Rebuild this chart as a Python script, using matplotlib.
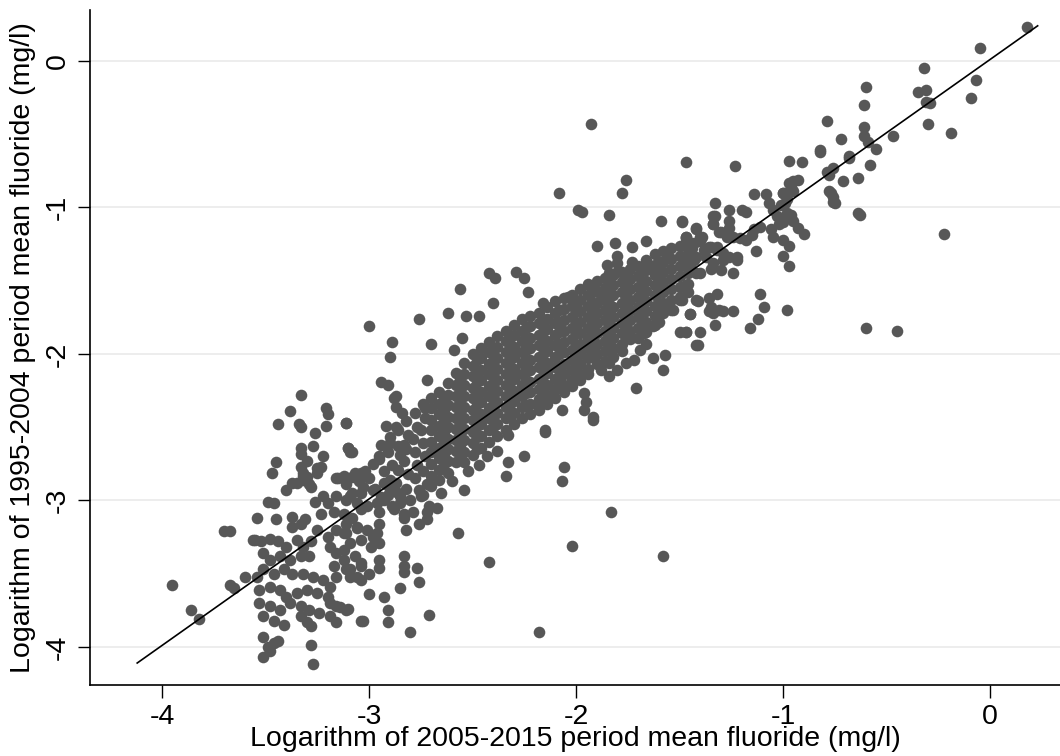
import matplotlib
matplotlib.use("Agg")
import matplotlib.pyplot as plt
import numpy as np

# ---------------- data (log mg/l) ----------------
# fitted line end points
fit_x = [-4.12, 0.23]
fit_y = [-4.11, 0.24]

x_ticks = [-4, -3, -2, -1, 0]
y_ticks = [-4, -3, -2, -1, 0]

x_label = "Logarithm of 2005-2015 period mean fluoride (mg/l)"
y_label = "Logarithm of 1995-2004 period mean fluoride (mg/l)"

lower_left = [
    (-3.95, -3.58), (-3.86, -3.75), (-3.82, -3.81), (-3.70, -3.21), (-3.67, -3.21), (-3.67, -3.58), (-3.65, -3.60),
    (-3.60, -3.52), (-3.54, -3.52), (-3.54, -3.12), (-3.55, -3.27), (-3.49, -3.01), (-3.46, -3.02), (-3.45, -3.13),
    (-3.37, -3.11), (-3.33, -3.16), (-3.31, -3.13), (-3.37, -3.18), (-3.40, -2.93), (-3.35, -2.88), (-3.32, -2.86),
    (-3.29, -2.89), (-3.25, -2.81), (-3.32, -2.81), (-3.15, -2.85), (-3.08, -2.84), (-3.11, -2.89), (-3.26, -3.01),
    (-3.22, -2.97), (-3.20, -3.02), (-3.16, -2.97), (-3.09, -2.97), (-3.04, -2.95), (-3.23, -3.09), (-3.17, -3.08),
    (-3.12, -3.09), (-3.08, -3.12), (-3.04, -3.06), (-3.25, -3.20), (-3.20, -3.25), (-3.16, -3.20), (-3.11, -3.22),
    (-3.06, -3.19), (-3.56, -3.27), (-3.52, -3.28), (-3.48, -3.26), (-3.44, -3.28), (-3.40, -3.32), (-3.35, -3.27),
    (-3.32, -3.32), (-3.28, -3.28), (-3.51, -3.36), (-3.48, -3.41), (-3.43, -3.38), (-3.38, -3.41), (-3.33, -3.38),
    (-3.29, -3.38), (-3.19, -3.32), (-3.16, -3.36), (-3.12, -3.41), (-3.17, -3.45), (-3.09, -3.47), (-3.04, -3.45),
    (-3.51, -3.47), (-3.46, -3.50), (-3.41, -3.47), (-3.37, -3.50), (-3.32, -3.50), (-3.27, -3.52), (-3.22, -3.54),
    (-3.16, -3.52), (-3.09, -3.52), (-3.04, -3.54), (-3.19, -3.59), (-3.53, -3.61), (-3.48, -3.59), (-3.43, -3.61),
    (-3.40, -3.66), (-3.35, -3.63), (-3.30, -3.61), (-3.25, -3.63), (-3.20, -3.66), (-3.53, -3.70), (-3.48, -3.72),
    (-3.43, -3.75), (-3.38, -3.70), (-3.33, -3.72), (-3.29, -3.75), (-3.19, -3.70), (-3.16, -3.72), (-3.11, -3.75),
    (-3.51, -3.79), (-3.46, -3.82), (-3.41, -3.85), (-3.33, -3.79), (-3.30, -3.83), (-3.24, -3.77), (-3.19, -3.79),
    (-3.16, -3.83), (-3.04, -3.82), (-3.51, -3.93), (-3.49, -4.00), (-3.46, -3.97), (-3.44, -3.96), (-3.51, -4.07),
    (-3.48, -4.03), (-3.28, -3.86), (-3.28, -3.99), (-3.27, -4.12), (-3.10, -3.74),
]

left_upper = [
    (-3.33, -2.28), (-3.38, -2.39), (-3.21, -2.37), (-3.20, -2.41), (-3.44, -2.48), (-3.34, -2.48), (-3.33, -2.50),
    (-3.26, -2.54), (-3.21, -2.49), (-3.11, -2.47), (-3.33, -2.64), (-3.33, -2.68), (-3.27, -2.63), (-3.22, -2.70),
    (-3.10, -2.64), (-3.09, -2.67), (-3.45, -2.74), (-3.47, -2.81), (-3.30, -2.73), (-3.33, -2.77), (-3.25, -2.78),
    (-3.23, -2.77), (-3.32, -2.83), (-3.30, -2.84), (-3.16, -2.85), (-3.11, -2.86), (-3.04, -2.81), (-3.37, -2.88),
    (-3.28, -2.91), (-3.12, -2.83), (-3.07, -2.81), (-3.02, -2.80), (-3.05, -2.87), (-3.00, -2.85), (-2.97, -2.92),
    (-2.92, -2.89), (-2.98, -2.75), (-2.95, -2.70),
]

mid_lower = [
    (-3.08, -2.95), (-3.03, -2.91), (-2.98, -2.93), (-2.93, -2.88), (-2.90, -2.93), (-2.86, -2.95), (-2.85, -2.97),
    (-3.11, -3.00), (-3.06, -3.02), (-3.01, -3.04), (-2.96, -3.02), (-2.93, -3.00), (-2.88, -3.06), (-2.83, -3.09),
    (-2.79, -3.08), (-2.75, -2.97), (-2.72, -3.08), (-2.71, -3.04), (-2.67, -3.05), (-2.65, -2.95), (-2.54, -2.93),
    (-2.83, -3.12), (-2.82, -3.20), (-2.76, -3.16), (-2.72, -3.13), (-2.57, -3.22), (-2.42, -3.42), (-3.11, -3.16),
    (-3.06, -3.18), (-3.01, -3.20), (-2.98, -3.25), (-2.95, -3.29), (-3.12, -3.22), (-3.09, -3.29), (-3.04, -3.27),
    (-2.99, -3.32), (-2.95, -3.16), (-2.96, -3.22), (-3.12, -3.34), (-3.07, -3.38), (-3.04, -3.43), (-3.11, -3.47),
    (-3.06, -3.52), (-3.00, -3.50), (-2.95, -3.46), (-2.95, -3.41), (-2.83, -3.38), (-2.83, -3.45), (-2.83, -3.49),
    (-2.77, -3.46), (-2.76, -3.56), (-2.85, -3.60), (-3.00, -3.64), (-2.93, -3.66), (-3.14, -3.73), (-2.91, -3.75),
    (-2.91, -3.83), (-3.03, -3.82), (-2.71, -3.78), (-2.80, -3.90), (-2.74, -2.96),
    (-2.52, -2.80), (-2.47, -2.76), (-2.43, -2.70), (-2.38, -2.66), (-2.60, -2.87),
]

mid_upper = [
    (-3.00, -1.81), (-2.76, -1.76), (-2.62, -1.72), (-2.53, -1.74), (-2.47, -1.74), (-2.40, -1.65), (-2.89, -1.92),
    (-2.90, -2.02), (-2.70, -1.93), (-2.59, -1.97), (-2.55, -1.89), (-2.94, -2.19), (-2.91, -2.21), (-2.72, -2.18),
    (-2.88, -2.30), (-2.87, -2.29), (-2.87, -2.36), (-2.84, -2.40), (-3.11, -2.47), (-2.92, -2.49), (-2.87, -2.50),
    (-2.73, -2.37), (-3.10, -2.64), (-3.08, -2.67), (-2.90, -2.61), (-2.86, -2.63), (-2.83, -2.62),
]

transition = [
    (-2.94, -2.62), (-2.95, -2.72), (-2.93, -2.80), (-2.94, -2.98), (-2.95, -3.08), (-2.90, -2.57), (-2.91, -2.67),
    (-2.89, -2.76), (-2.90, -2.86), (-2.91, -2.96), (-2.89, -3.04), (-2.86, -2.52), (-2.85, -2.69), (-2.86, -2.79),
    (-2.87, -2.88), (-2.85, -3.02), (-2.82, -2.46), (-2.81, -2.55), (-2.82, -2.65), (-2.83, -2.73), (-2.81, -2.82),
    (-2.82, -2.92), (-2.80, -3.00), (-2.78, -2.40), (-2.77, -2.50), (-2.79, -2.58), (-2.78, -2.67), (-2.77, -2.76),
    (-2.78, -2.85), (-2.76, -2.93), (-2.74, -2.34), (-2.73, -2.44), (-2.75, -2.52), (-2.74, -2.61), (-2.73, -2.70),
    (-2.74, -2.80), (-2.72, -2.89),
]

# dense core: (x, [y values]) columns
core_columns = [
    (-2.70, [-2.30, -2.37, -2.45, -2.52, -2.60, -2.67, -2.75, -2.83, -2.90]),
    (-2.66, [-2.26, -2.34, -2.41, -2.49, -2.56, -2.64, -2.71, -2.79, -2.86]),
    (-2.62, [-2.20, -2.28, -2.35, -2.43, -2.50, -2.58, -2.65, -2.73, -2.81]),
    (-2.58, [-2.13, -2.21, -2.29, -2.36, -2.44, -2.51, -2.59, -2.66, -2.74]),
    (-2.54, [-2.06, -2.14, -2.21, -2.29, -2.36, -2.44, -2.51, -2.59, -2.67, -2.74]),
    (-2.50, [-2.00, -2.08, -2.15, -2.23, -2.30, -2.38, -2.45, -2.53, -2.61, -2.69]),
    (-2.46, [-1.96, -2.03, -2.11, -2.18, -2.26, -2.33, -2.41, -2.48, -2.56, -2.64]),
    (-2.42, [-1.92, -1.99, -2.07, -2.14, -2.22, -2.29, -2.37, -2.44, -2.52, -2.60]),
    (-2.38, [-1.88, -1.95, -2.03, -2.10, -2.18, -2.25, -2.33, -2.40, -2.48, -2.56]),
    (-2.34, [-1.84, -1.91, -1.99, -2.06, -2.14, -2.21, -2.29, -2.36, -2.44, -2.52]),
    (-2.30, [-1.80, -1.87, -1.95, -2.02, -2.10, -2.17, -2.25, -2.32, -2.40, -2.48]),
    (-2.26, [-1.76, -1.84, -1.91, -1.99, -2.06, -2.14, -2.21, -2.29, -2.36, -2.44]),
    (-2.22, [-1.74, -1.81, -1.89, -1.96, -2.04, -2.11, -2.19, -2.26, -2.34, -2.41]),
    (-2.18, [-1.72, -1.79, -1.87, -1.94, -2.02, -2.09, -2.17, -2.24, -2.31, -2.38]),
    (-2.14, [-1.68, -1.76, -1.83, -1.91, -1.98, -2.06, -2.13, -2.21, -2.28, -2.34]),
    (-2.10, [-1.64, -1.72, -1.79, -1.87, -1.94, -2.02, -2.09, -2.17, -2.24, -2.30]),
    (-2.06, [-1.62, -1.69, -1.77, -1.84, -1.92, -1.99, -2.07, -2.14, -2.21, -2.26]),
    (-2.02, [-1.60, -1.67, -1.75, -1.82, -1.90, -1.97, -2.04, -2.11, -2.18, -2.22]),
    (-1.98, [-1.56, -1.63, -1.71, -1.78, -1.86, -1.93, -2.00, -2.07, -2.14, -2.18]),
    (-1.94, [-1.52, -1.60, -1.67, -1.75, -1.82, -1.89, -1.96, -2.03, -2.10, -2.14]),
    (-1.90, [-1.50, -1.57, -1.65, -1.72, -1.79, -1.86, -1.93, -2.00, -2.07]),
    (-1.86, [-1.48, -1.55, -1.63, -1.70, -1.77, -1.84, -1.91, -1.98, -2.05]),
    (-1.82, [-1.46, -1.53, -1.60, -1.68, -1.75, -1.82, -1.89, -1.96, -2.02]),
    (-1.78, [-1.44, -1.51, -1.58, -1.65, -1.72, -1.79, -1.86, -1.93, -1.98]),
    (-1.74, [-1.42, -1.49, -1.56, -1.63, -1.70, -1.77, -1.84, -1.90]),
    (-1.70, [-1.40, -1.47, -1.54, -1.61, -1.68, -1.75, -1.82, -1.89]),
    (-1.66, [-1.36, -1.43, -1.50, -1.57, -1.64, -1.71, -1.78, -1.85]),
    (-1.62, [-1.32, -1.39, -1.46, -1.53, -1.60, -1.67, -1.74, -1.80]),
    (-1.58, [-1.30, -1.37, -1.44, -1.51, -1.58, -1.65, -1.72]),
    (-1.54, [-1.28, -1.35, -1.42, -1.49, -1.56, -1.63, -1.70]),
    (-1.50, [-1.26, -1.33, -1.40, -1.47, -1.54, -1.61]),
    (-1.46, [-1.24, -1.31, -1.38, -1.45, -1.52, -1.58]),
]

# extra points filling the darkest middle of the core
core_fill = [
    (-2.64, [-2.30, -2.38, -2.45, -2.53, -2.60, -2.68, -2.75]),
    (-2.56, [-2.17, -2.25, -2.32, -2.40, -2.47, -2.55, -2.62, -2.70]),
    (-2.48, [-2.04, -2.12, -2.19, -2.27, -2.34, -2.42, -2.49, -2.57, -2.65]),
    (-2.40, [-1.97, -2.05, -2.12, -2.20, -2.27, -2.35, -2.42, -2.50]),
    (-2.32, [-1.89, -1.97, -2.04, -2.12, -2.19, -2.27, -2.34, -2.42]),
    (-2.24, [-1.82, -1.90, -1.97, -2.05, -2.12, -2.20, -2.27, -2.35]),
    (-2.16, [-1.77, -1.85, -1.92, -2.00, -2.07, -2.15, -2.22, -2.29]),
    (-2.08, [-1.70, -1.78, -1.85, -1.93, -2.00, -2.08, -2.15, -2.22]),
    (-2.00, [-1.64, -1.71, -1.79, -1.86, -1.94, -2.01, -2.08, -2.15]),
    (-1.92, [-1.58, -1.65, -1.73, -1.80, -1.88, -1.95, -2.02]),
    (-1.84, [-1.52, -1.59, -1.66, -1.73, -1.80, -1.87, -1.94]),
    (-1.76, [-1.47, -1.54, -1.61, -1.68, -1.75, -1.82, -1.89]),
    (-1.68, [-1.43, -1.50, -1.57, -1.64, -1.71, -1.78]),
    (-1.60, [-1.37, -1.44, -1.51, -1.58, -1.65, -1.72]),
]

core_edge = [
    (-2.29, -1.44), (-2.25, -1.48), (-2.23, -1.58), (-2.16, -1.65), (-2.04, -1.61), (-2.42, -1.45), (-2.39, -1.48),
    (-2.56, -1.56), (-1.90, -1.26), (-1.81, -1.24), (-1.73, -1.27), (-1.66, -1.23), (-1.47, -1.20), (-1.47, -1.24),
    (-1.44, -1.28), (-1.80, -1.33), (-1.80, -1.38), (-1.85, -1.39), (-1.73, -1.37), (-1.84, -1.45), (-1.80, -1.44),
    (-1.93, -1.54), (-1.88, -1.60), (-1.55, -1.34), (-1.59, -1.37), (-1.63, -1.40), (-1.43, -1.36), (-1.42, -1.45),
    (-1.50, -1.63), (-1.56, -1.68), (-1.53, -1.70), (-1.45, -1.73), (-1.60, -1.78), (-1.50, -1.85), (-1.47, -1.85),
    (-1.42, -1.94), (-1.57, -2.01), (-1.63, -2.03), (-1.58, -2.11), (-1.71, -2.23), (-1.42, -1.63), (-1.96, -2.27),
    (-1.95, -2.33), (-1.92, -2.43), (-1.96, -2.38), (-2.07, -2.38), (-2.18, -2.37), (-2.15, -2.52), (-1.84, -2.06),
    (-1.80, -2.11), (-1.84, -2.15), (-1.88, -2.11), (-1.76, -2.06), (-1.72, -2.04), (-1.69, -1.97), (-1.66, -1.93),
    (-1.67, -1.86), (-1.63, -1.81), (-2.15, -2.53), (-2.33, -2.55), (-2.25, -2.70), (-2.33, -2.74), (-2.34, -2.83),
    (-2.06, -2.77), (-2.07, -2.87), (-1.92, -2.45), (-1.83, -3.08), (-2.02, -3.31), (-1.58, -3.38), (-2.18, -3.90),
]

upper_scatter = [
    (-2.08, -0.90), (-1.99, -1.02), (-1.97, -1.03), (-1.93, -0.43), (-1.84, -1.05), (-1.76, -0.81), (-1.78, -0.90),
    (-1.59, -1.09), (-1.49, -1.10), (-1.47, -0.69), (-1.23, -0.72), (-1.33, -0.97), (-1.33, -1.06), (-1.34, -1.11),
    (-1.31, -1.17), (-1.42, -1.14), (-1.39, -1.20), (-1.47, -1.20), (-1.40, -1.23), (-1.45, -1.24), (-1.36, -1.27),
    (-1.32, -1.27),
]

right_group = [
    (-0.97, -0.68), (-0.91, -0.69), (-0.82, -0.62), (-0.68, -0.65), (-0.79, -0.76), (-0.76, -0.73), (-0.78, -0.78),
    (-0.71, -0.82), (-0.64, -0.80), (-0.95, -0.82), (-0.93, -0.81), (-0.96, -0.86), (-1.14, -0.91), (-1.08, -0.91),
    (-1.07, -0.97), (-1.00, -0.90), (-0.98, -0.94), (-0.78, -0.89), (-0.76, -0.93), (-0.76, -0.96), (-0.75, -0.97),
    (-0.64, -1.04), (-0.63, -1.05), (-1.26, -1.02), (-1.20, -1.02), (-1.18, -1.03), (-1.05, -1.02), (-1.01, -0.98),
    (-1.03, -1.06), (-0.98, -1.04), (-1.00, -1.10), (-1.02, -1.11), (-0.96, -1.05), (-0.95, -1.09), (-0.93, -1.14),
    (-0.90, -1.18), (-1.06, -1.15), (-1.05, -1.20), (-1.00, -1.22), (-0.97, -1.26), (-1.00, -1.33), (-0.97, -1.40),
    (-1.13, -1.30), (-1.49, -1.09), (-1.47, -1.21), (-1.45, -1.24), (-1.34, -1.06), (-1.34, -1.11), (-1.26, -1.09),
    (-1.26, -1.14), (-1.30, -1.17), (-1.27, -1.20), (-1.24, -1.20), (-1.21, -1.21), (-1.18, -1.22), (-1.15, -1.19),
    (-1.14, -1.15), (-1.11, -1.13), (-1.42, -1.15), (-1.40, -1.20), (-1.43, -1.24), (-1.38, -1.29), (-1.35, -1.27),
    (-1.32, -1.29), (-1.29, -1.31), (-1.37, -1.34), (-1.42, -1.34), (-1.45, -1.36), (-1.34, -1.38), (-1.29, -1.36),
    (-1.26, -1.34), (-1.22, -1.34), (-1.22, -1.36), (-1.30, -1.43), (-1.35, -1.42), (-1.40, -1.45), (-1.45, -1.40),
    (-1.48, -1.39), (-1.24, -1.45), (-1.47, -1.53), (-1.49, -1.63), (-1.45, -1.73), (-1.47, -1.85), (-1.40, -1.85),
    (-1.41, -1.64), (-1.36, -1.62), (-1.32, -1.59), (-1.35, -1.68), (-1.36, -1.71), (-1.34, -1.72), (-1.31, -1.70),
    (-1.29, -1.71), (-1.24, -1.71), (-1.33, -1.80), (-1.41, -1.94), (-1.16, -1.82), (-1.12, -1.76), (-1.09, -1.68),
    (-1.11, -1.59), (-0.98, -1.70),
    (0.18, 0.23), (-0.05, 0.09), (-0.32, -0.05), (-0.35, -0.21), (-0.31, -0.20), (-0.31, -0.28), (-0.29, -0.29),
    (-0.30, -0.43), (-0.19, -0.49), (-0.09, -0.25), (-0.07, -0.13), (-0.60, -0.18), (-0.61, -0.30), (-0.79, -0.41),
    (-0.61, -0.45), (-0.61, -0.51), (-0.59, -0.55), (-0.55, -0.60), (-0.47, -0.51), (-0.72, -0.53), (-0.82, -0.61),
    (-0.68, -0.66), (-0.58, -0.71), (-0.97, -0.83), (-0.95, -0.89), (-1.00, -0.90), (-0.99, -0.97), (-0.77, -0.90),
    (-0.22, -1.18), (-0.60, -1.82), (-0.45, -1.84),
]

# ---------------- assemble ----------------
pts = lower_left + left_upper + mid_lower + mid_upper + transition + core_edge + upper_scatter + right_group
for cx, ys in core_columns + core_fill:
    pts += [(cx, yy) for yy in ys]
px = np.array([p[0] for p in pts])
py = np.array([p[1] for p in pts])

# ---------------- figure ----------------
plt.rcParams['font.family'] = ['Liberation Sans', 'DejaVu Sans']
fig = plt.figure(figsize=(10.6, 7.56), dpi=100)
ax = fig.add_axes([90 / 1060, 71 / 756, 970 / 1060, 675 / 756])

ax.set_xlim(-4.348, 0.338)
ax.set_ylim(-4.26, 0.348)

ax.yaxis.grid(True, color='#ededed', linewidth=1.4, zorder=0)
ax.xaxis.grid(False)
ax.set_axisbelow(True)

ax.scatter(px, py, s=70, color='#575757', linewidths=0, zorder=2)
ax.plot(fit_x, fit_y, color='black', linewidth=1.2, zorder=3)

for side in ['top', 'right']:
    ax.spines[side].set_visible(False)
for side in ['left', 'bottom']:
    ax.spines[side].set_linewidth(1.2)
    ax.spines[side].set_color('black')

ax.set_xticks(x_ticks)
ax.set_yticks(y_ticks)
ax.set_xticklabels([str(t) for t in x_ticks])
ax.set_yticklabels([str(t) for t in y_ticks], rotation=90, va='center')
ax.tick_params(axis='both', direction='out', length=9, width=1.0, labelsize=20.5, pad=5, color='black')

ax.set_xlabel(x_label, fontsize=20.5, labelpad=-3)
ax.set_ylabel(y_label, fontsize=20.5, labelpad=6)

fig.savefig('out.png', dpi=100)
